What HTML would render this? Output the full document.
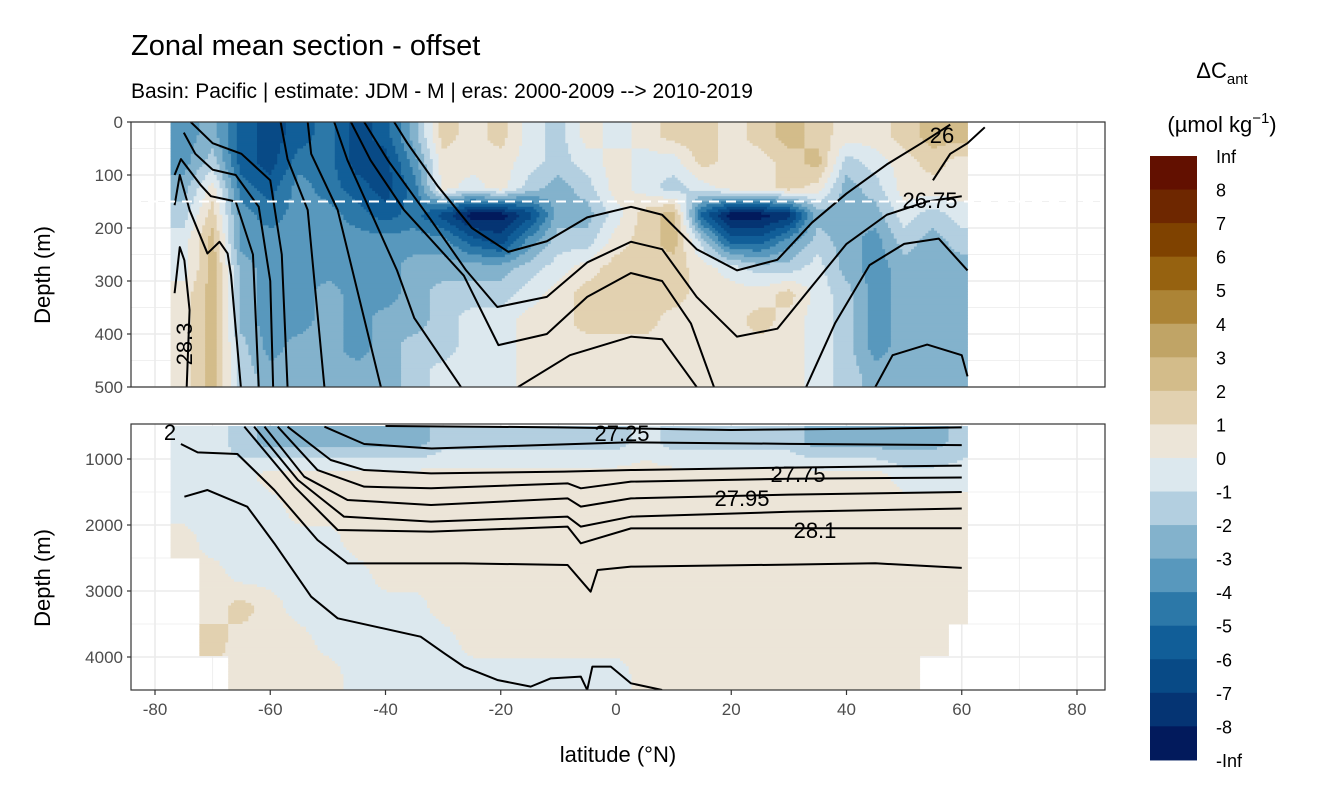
<!DOCTYPE html>
<html><head><meta charset="utf-8">
<style>
body{margin:0;background:#fff;}
svg text{font-family:"Liberation Sans",sans-serif;}
</style></head>
<body>
<svg id="chart" width="1344" height="806" xmlns="http://www.w3.org/2000/svg">
<text x="131" y="55" font-size="29" fill="#000">Zonal mean section - offset</text>
<text x="131" y="98" font-size="21" fill="#000">Basin: Pacific | estimate: JDM - M | eras: 2000-2009 --&gt; 2010-2019</text>
<g id="topPanel"></g>
<g id="botPanel"></g>
<g id="xaxis"></g>
<text x="30" y="255" font-size="22" transform="rotate(-90 50 255)" text-anchor="middle">Depth (m)</text>
<text x="30" y="558" font-size="22" transform="rotate(-90 50 558)" text-anchor="middle">Depth (m)</text>
<text x="618" y="762" font-size="22" text-anchor="middle">latitude (°N)</text>
<g id="legend">
<text x="1222" y="78" font-size="22" text-anchor="middle">ΔC<tspan font-size="15" dy="6">ant</tspan></text>
<text x="1222" y="132" font-size="22" text-anchor="middle">(µmol kg<tspan font-size="15" dy="-9">−1</tspan><tspan dy="9">)</tspan></text>
</g>
</svg>
<script>
const NS="http://www.w3.org/2000/svg";
const svg=document.getElementById('chart');
// ---- data ----
const latCenters=[-75,-70,-65,-60,-55,-50,-45,-40,-35,-30,-25,-20,-15,-10,-5,0,5,10,15,20,25,30,35,40,45,50,55,60];
const topDepthEdges=[0,50,100,150,200,250,300,350,400,450,500];
const topValues=[
[-3.5,-2.5,-5.5,-6.5,-5.5,-4.5,-6.5,-5.5,-2.5,1.5,0.5,1.5,-0.5,-1.5,0.5,-0.5,0.5,1.5,1.5,0.5,1.5,2.5,1.5,0.5,0.5,1.5,2.5,2.5],
[-3.5,-1.5,-5.5,-6.5,-4.5,-4.5,-6.5,-6.5,-3.5,0.5,0.5,0.5,-0.5,-1.5,-0.5,0.5,-0.5,-0.5,1.5,0.5,0.5,1.5,2.5,-1.5,-0.5,0.5,1.5,0.5],
[-2.5,0.5,-4.5,-5.5,-3.5,-4.5,-5.5,-6.5,-4.5,0.5,-0.5,0.5,-1.5,-2.5,-1.5,0.5,-0.5,-1.5,-0.5,0.5,0.5,1.5,0.5,-2.5,-1.5,0.5,0.5,0.5],
[-1.5,1.5,-3.5,-4.5,-3.5,-3.5,-4.5,-5.5,-4.5,-6.5,-8.5,-8.5,-6.5,-2.5,-2.5,-0.5,1.5,2.5,-5.5,-8.5,-8.5,-7.5,-2.5,-2.5,-2.5,-0.5,-1.5,-0.5],
[-0.5,2.5,-3.5,-3.5,-3.5,-3.5,-3.5,-3.5,-3.5,-3.5,-5.5,-6.5,-3.5,-1.5,-1.5,0.5,1.5,2.5,-1.5,-5.5,-5.5,-3.5,-1.5,-2.5,-3.5,-1.5,-2.5,-1.5],
[-0.5,2.5,-2.5,-3.5,-3.5,-3.5,-3.5,-3.5,-2.5,-2.5,-2.5,-2.5,-1.5,-0.5,0.5,1.5,1.5,1.5,0.5,-0.5,-1.5,-1.5,-0.5,-2.5,-3.5,-2.5,-2.5,-2.5],
[0.5,2.5,-2.5,-3.5,-3.5,-2.5,-3.5,-3.5,-2.5,-1.5,-1.5,-1.5,-0.5,0.5,1.5,1.5,1.5,1.5,0.5,0.5,0.5,1.5,-0.5,-1.5,-3.5,-2.5,-2.5,-2.5],
[0.5,2.5,-2.5,-3.5,-3.5,-2.5,-3.5,-2.5,-2.5,-1.5,-0.5,-0.5,0.5,0.5,1.5,1.5,1.5,0.5,0.5,0.5,1.5,0.5,-0.5,-1.5,-3.5,-2.5,-2.5,-2.5],
[0.5,2.5,-1.5,-3.5,-2.5,-2.5,-3.5,-2.5,-1.5,-1.5,-0.5,-0.5,0.5,0.5,0.5,0.5,0.5,0.5,0.5,0.5,0.5,0.5,-0.5,-1.5,-3.5,-2.5,-2.5,-2.5],
[0.5,2.5,-1.5,-2.5,-2.5,-2.5,-2.5,-2.5,-1.5,-0.5,-0.5,-0.5,0.5,0.5,0.5,0.5,0.5,0.5,0.5,0.5,0.5,0.5,-0.5,-1.5,-2.5,-2.5,-2.5,-2.5]
];
const botDepthEdges=[500,1000,1500,2000,2500,3000,3500,4000,4500];
const botValues=[
[-0.5,-0.5,-1.5,-2.5,-2.5,-2.5,-2.5,-2.5,-2.5,-1.5,-1.5,-1.5,-1.5,-1.5,-1.5,-1.5,-0.5,-1.5,-1.5,-1.5,-1.5,-1.5,-2.5,-2.5,-2.5,-2.5,-2.5,-1.5],
[-0.5,-0.5,-0.5,0.5,0.5,0.5,0.5,0.5,0.5,0.5,0.5,0.5,0.5,0.5,0.5,0.5,0.5,0.5,0.5,0.5,0.5,0.5,0.5,0.5,0.5,-0.5,-0.5,-0.5],
[-0.5,-0.5,-0.5,-0.5,0.5,0.5,0.5,0.5,0.5,0.5,0.5,0.5,0.5,0.5,0.5,0.5,0.5,0.5,0.5,0.5,0.5,0.5,0.5,0.5,0.5,0.5,0.5,0.5],
[0.5,-0.5,-0.5,-0.5,-0.5,-0.5,0.5,0.5,0.5,0.5,0.5,0.5,0.5,0.5,0.5,0.5,0.5,0.5,0.5,0.5,0.5,0.5,0.5,0.5,0.5,0.5,0.5,0.5],
[null,0.5,-0.5,-0.5,-0.5,-0.5,-0.5,0.5,0.5,0.5,0.5,0.5,0.5,0.5,0.5,0.5,0.5,0.5,0.5,0.5,0.5,0.5,0.5,0.5,0.5,0.5,0.5,0.5],
[null,0.5,1.5,0.5,-0.5,-0.5,-0.5,-0.5,-0.5,0.5,0.5,0.5,0.5,0.5,0.5,0.5,0.5,0.5,0.5,0.5,0.5,0.5,0.5,0.5,0.5,0.5,0.5,0.5],
[null,1.5,0.5,0.5,0.5,-0.5,-0.5,-0.5,-0.5,-0.5,0.5,0.5,0.5,0.5,0.5,0.5,0.5,0.5,0.5,0.5,0.5,0.5,0.5,0.5,0.5,0.5,0.5,null],
[null,null,0.5,0.5,0.5,0.5,-0.5,-0.5,-0.5,-0.5,-0.5,-0.5,-0.5,-0.5,-0.5,-0.5,0.5,0.5,0.5,0.5,0.5,0.5,0.5,0.5,0.5,0.5,null,null]
];
const topContours=[
[[-76.6,323],[-75.7,236],[-74.9,261],[-74,355],[-74.5,500]],
[[-76.6,157],[-75.7,100],[-74,166],[-70.9,248],[-68.8,226],[-67.4,248],[-66.8,290],[-65.1,500]],
[[-76.6,100],[-75.5,70],[-72,120],[-70.3,140],[-66,150],[-63,250],[-62,500]],
[[-75,20],[-73,60],[-70,90],[-66,100],[-62,160],[-60,300],[-59.5,500]],
[[-73.8,0],[-70,40],[-65,60],[-60,110],[-58,250],[-57,500]],
[[-58.2,0],[-57,70],[-53.5,166],[-50.6,500]],
[[-53.5,0],[-52.9,60],[-48.3,166],[-40.8,500]],
[[-48.9,0],[-46.6,72],[-38,280],[-35,370],[-26.9,500]],
[[-46,0],[-42.6,72],[-36.8,166],[-26.4,290],[-20.4,421],[-12,400],[-5,330],[2.6,285],[8,300],[13,380],[17,500]],
[[-43.7,0],[-39.6,72],[-32.1,185],[-26,280],[-20.6,349],[-12,330],[-5,265],[2.6,226],[8,240],[14,330],[21,405],[28,390],[34,310],[40,230],[47,175],[54,150],[60,140]],
[[-38.5,0],[-36.2,40],[-31,120],[-25,200],[-18.7,245],[-12,225],[-5,180],[2.6,160],[8,175],[14,240],[21,280],[28,260],[34,190],[40,135],[47,80],[53,40],[58,5]],
[[-17,500],[-8,440],[2.6,405],[8,410],[12,470],[14,500]],
[[33,500],[38,380],[44,270],[50,230],[56,220],[61,280]],
[[45,500],[48,440],[54,420],[60,440],[61,480]],
[[55,110],[58,60],[61,40],[64,10]]
];
const botContours=[
[[-40,500],[-10,520],[20,560],[45,540],[60,520]],
[[-50.6,510],[-43.7,773],[-32,840],[2.6,747],[30,770],[60,790]],
[[-57,510],[-49.5,1015],[-43.7,1167],[-32.1,1217],[-9,1192],[2.6,1167],[30,1130],[60,1100]],
[[-58.7,510],[-51.8,1167],[-43.7,1419],[-32.1,1444],[-8.4,1369],[-6.1,1444],[2.6,1343],[30,1300],[60,1280]],
[[-61,510],[-54.1,1268],[-46.6,1621],[-32.1,1697],[-8.4,1596],[-6.1,1722],[2.6,1596],[30,1540],[60,1500]],
[[-62.8,510],[-55.2,1318],[-47.2,1874],[-32.1,1949],[-8.4,1874],[-6.1,2025],[2.6,1874],[30,1800],[60,1750]],
[[-64.5,510],[-55.8,1419],[-48.3,2076],[-32.1,2101],[-8.4,2025],[-6.1,2278],[2.6,2051],[30,2050],[60,2050]],
[[-75.5,773],[-72.6,899],[-65.7,924],[-59.3,1470],[-51.8,2227],[-46.6,2581],[-26.4,2581],[-8.4,2606],[-4.4,3010],[-3.2,2682],[2.6,2631],[30,2600],[45,2580],[60,2650]],
[[-74.9,1571],[-70.9,1470],[-64,1722],[-59.3,2278],[-52.9,3086],[-48.3,3414],[-33.9,3692],[-29.8,3944],[-26.4,4146],[-20.6,4348],[-14.8,4449],[-11.3,4323],[-6.1,4298],[-5,4500],[-4.1,4146],[-0.9,4146],[2.6,4399],[8,4500]]
];
const legendLabels=["Inf","8","7","6","5","4","3","2","1","0","-1","-2","-3","-4","-5","-6","-7","-8","-Inf"];
const palette=["#621000","#6e2700","#7f4200","#966210","#ac8436","#c0a466","#d3bc8a","#e2d1b0","#ece5d8","#dce8ee","#b3cfe0","#83b2cc","#5898bd","#2c78a8","#115e98","#084a86","#053473","#021a5c"];
// ---- scales ----
const X0=131,X1=1105;
const xs=lat=>616+lat*5.7625;
const ysTop=d=>122+d*0.53;
const ysBot=d=>459+(d-1000)*0.066;
const colorOf=v=>palette[Math.max(0,Math.min(17,8-Math.floor(v)))];
function el(tag,attrs,parent){const e=document.createElementNS(NS,tag);for(const k in attrs)e.setAttribute(k,attrs[k]);parent.appendChild(e);return e;}
function sample(values,depthEdges,lat,d){
  const nR=values.length,nC=latCenters.length;
  const fc=Math.max(0,Math.min(nC-1,(lat-latCenters[0])/5));
  const rh=depthEdges[1]-depthEdges[0];
  const fr=Math.max(0,Math.min(nR-1,(d-depthEdges[0]-rh/2)/rh));
  const nr=Math.round(fr),nc=Math.round(fc);
  if(values[nr][nc]===null)return null;
  const c0=Math.floor(fc),c1=Math.min(nC-1,c0+1),r0=Math.floor(fr),r1=Math.min(nR-1,r0+1);
  const tc=fc-c0,tr=fr-r0;let s=0,w=0;
  [[r0,c0,(1-tr)*(1-tc)],[r0,c1,(1-tr)*tc],[r1,c0,tr*(1-tc)],[r1,c1,tr*tc]].forEach(q=>{const v=values[q[0]][q[1]];if(v!==null&&q[2]>0){s+=v*q[2];w+=q[2];}});
  return w>0?s/w:values[nr][nc];
}
function panel(g,y0,y1,ys,depthEdges,values,contours,yticks,gridDepths,dashed,dStep){
  el('rect',{x:X0,y:y0,width:X1-X0,height:y1-y0,fill:'#fff'},g);
  const grid=el('g',{},g);
  
  
  for(let l=-90;l<=90;l+=10){const x=xs(l);if(x<X0||x>X1)continue;el('line',{x1:x,x2:x,y1:y0,y2:y1,stroke:'#ebebeb','stroke-width':l%20===0?1.6:0.8},grid);}
  gridDepths.forEach((d,i)=>{const y=ys(d);if(y<y0||y>y1)return;el('line',{x1:X0,x2:X1,y1:y,y2:y,stroke:'#ebebeb','stroke-width':i%2===0?1.6:0.8},grid);});
  const cl=el('clipPath',{id:'c'+y0},g);el('rect',{x:X0,y:y0,width:X1-X0,height:y1-y0},cl);
  const heat=el('g',{'clip-path':'url(#c'+y0+')'},g);
  
  
  const dMin=depthEdges[0],dMax=depthEdges[depthEdges.length-1];
  const latMin=-77.3,latMax=61,lStep=0.5;
  for(let d=dMin;d<dMax;d+=dStep){
    let runStart=null,runColor=null;
    const flush=(lEnd)=>{if(runColor){const ya=ys(d),yb=ys(d+dStep);
      const rc=el('rect',{x:xs(runStart),y:ya,width:xs(lEnd)-xs(runStart)+0.4,height:yb-ya+0.4,fill:runColor},heat);
      
      }};
    for(let l=latMin;l<latMax;l+=lStep){
      const v=sample(values,depthEdges,l+lStep/2,d+dStep/2);
      const c=v===null?null:colorOf(v);
      if(c!==runColor){flush(l);runStart=l;runColor=c;}
    }
    flush(latMax);
  }
  const cg=el('g',{'clip-path':'url(#c'+y0+')'},g);
  contours.forEach(pts=>{
    const p=el('polyline',{points:pts.map(q=>xs(q[0])+','+ys(q[1])).join(' '),fill:'none',stroke:'#000','stroke-width':2,'stroke-linejoin':'round'},cg);
    
    
  });
  if(dashed){const dl=el('line',{x1:X0,x2:X1,y1:ys(150),y2:ys(150),stroke:'#fff','stroke-width':2,'stroke-dasharray':'10 7'},g);
    }
  el('rect',{x:X0,y:y0,width:X1-X0,height:y1-y0,fill:'none',stroke:'#333','stroke-width':1.2},g);
  yticks.forEach(d=>{const y=ys(d);
    el('line',{x1:X0-4,x2:X0,y1:y,y2:y,stroke:'#333','stroke-width':1.2},g);
    const t=el('text',{x:X0-8,y:y+6,'font-size':17,fill:'#4d4d4d','text-anchor':'end'},g);t.textContent=d;
    });
}
panel(document.getElementById('topPanel'),122,387,ysTop,topDepthEdges,topValues,topContours,[0,100,200,300,400,500],[0,50,100,150,200,250,300,350,400,450,500],true,5);
panel(document.getElementById('botPanel'),424,690,ysBot,botDepthEdges,botValues,botContours,[1000,2000,3000,4000],[1000,1500,2000,2500,3000,3500,4000,4500],false,40);
// contour labels
const labels=[[942,143,"26",0],[930,208,"26.75",0],[622,441,"27.25",0],[798,482,"27.75",0],[742,506,"27.95",0],[815,538,"28.1",0],[184,352,"28.3",-90],[170,440,"2",0]];
labels.forEach(l=>{const t=el('text',{x:l[0],y:l[1],'font-size':22,'text-anchor':'middle',fill:'#000',transform:'rotate('+l[3]+' '+l[0]+' '+(l[1]-8)+')'},svg);t.textContent=l[2];
  });
// x axis
const xa=document.getElementById('xaxis');
[-80,-60,-40,-20,0,20,40,60,80].forEach(v=>{const x=xs(v);
  el('line',{x1:x,x2:x,y1:690,y2:695,stroke:'#333','stroke-width':1.2},xa);
  const t=el('text',{x:x,y:715,'font-size':17,fill:'#4d4d4d','text-anchor':'middle'},xa);t.textContent=v;
  });
// legend
const lg=document.getElementById('legend');
palette.forEach((c,i)=>{const r=el('rect',{x:1150,y:156+i*33.55,width:47,height:34.1,fill:c},lg);
  });
legendLabels.forEach((s,i)=>{const t=el('text',{x:1216,y:163+i*33.55,'font-size':18,fill:'#000'},lg);t.textContent=s;
  });
</script>
</body></html>
